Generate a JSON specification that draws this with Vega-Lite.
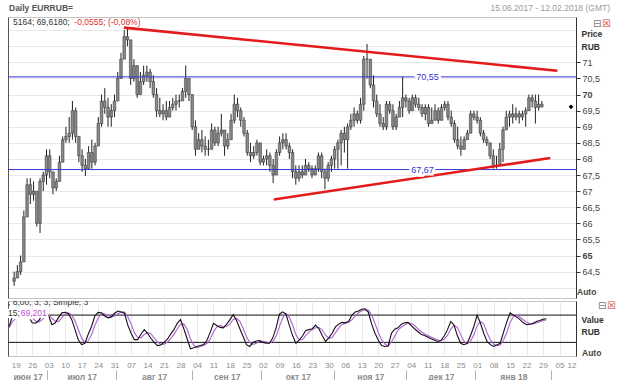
{
"$schema": "https://vega.github.io/schema/vega-lite/v6.json",
"autosize": {"type": "pad"},
"padding": {"left": 6, "top": 3, "right": 0, "bottom": 0},
"background": "white",
"spacing": 1,
"config": {"font": "Liberation Sans", "view": {"stroke": "#c4c4c4"}},
"datasets": {
"bars": [
{"i":0,"o":64.2,"h":64.5,"l":64.06,"c":64.3,"k":55,"d":52},
{"i":1,"o":64.3,"h":64.7,"l":64.3,"c":64.5,"k":78,"d":66},
{"i":2,"o":64.5,"h":65.0,"l":64.4,"c":64.8,"k":84,"d":72.3},
{"i":3,"o":64.8,"h":66.4,"l":64.8,"c":66.2,"k":90,"d":84},
{"i":4,"o":66.2,"h":67.4,"l":66.2,"c":67.2,"k":92,"d":88.7},
{"i":5,"o":67.2,"h":67.4,"l":66.6,"c":66.9,"k":84,"d":88.7},
{"i":6,"o":66.9,"h":67.3,"l":66.7,"c":67.0,"k":76,"d":84},
{"i":7,"o":67.0,"h":67.0,"l":65.9,"c":66.0,"k":63,"d":74.3},
{"i":8,"o":66.0,"h":67.4,"l":65.7,"c":67.3,"k":62,"d":67},
{"i":9,"o":67.3,"h":67.6,"l":67.0,"c":67.5,"k":68,"d":64.3},
{"i":10,"o":67.5,"h":68.3,"l":67.2,"c":68.1,"k":80,"d":70},
{"i":11,"o":68.1,"h":68.3,"l":67.4,"c":67.6,"k":82,"d":76.7},
{"i":12,"o":67.6,"h":67.6,"l":66.9,"c":67.1,"k":78,"d":80},
{"i":13,"o":67.1,"h":67.4,"l":67.0,"c":67.3,"k":59,"d":73},
{"i":14,"o":67.3,"h":68.1,"l":67.3,"c":67.9,"k":63,"d":66.7},
{"i":15,"o":67.9,"h":68.7,"l":67.9,"c":68.6,"k":75,"d":65.7},
{"i":16,"o":68.6,"h":69.0,"l":68.5,"c":68.7,"k":85,"d":74.3},
{"i":17,"o":68.7,"h":69.3,"l":68.5,"c":68.8,"k":86,"d":82},
{"i":18,"o":68.8,"h":69.8,"l":68.6,"c":69.5,"k":83,"d":84.7},
{"i":19,"o":69.5,"h":69.6,"l":68.5,"c":68.7,"k":70,"d":79.7},
{"i":20,"o":68.7,"h":68.7,"l":67.9,"c":68.1,"k":48,"d":67},
{"i":21,"o":68.1,"h":68.3,"l":67.6,"c":67.8,"k":25,"d":47.7},
{"i":22,"o":67.8,"h":68.0,"l":67.47,"c":67.7,"k":15,"d":29.3},
{"i":23,"o":67.7,"h":68.4,"l":67.7,"c":68.2,"k":18,"d":19.3},
{"i":24,"o":68.2,"h":68.6,"l":67.7,"c":67.9,"k":38,"d":23.7},
{"i":25,"o":67.9,"h":68.5,"l":67.8,"c":68.4,"k":55,"d":37},
{"i":26,"o":68.4,"h":69.3,"l":68.4,"c":69.1,"k":78,"d":57},
{"i":27,"o":69.1,"h":70.0,"l":69.0,"c":69.8,"k":86,"d":73},
{"i":28,"o":69.8,"h":70.2,"l":69.4,"c":69.6,"k":85,"d":83},
{"i":29,"o":69.6,"h":69.9,"l":69.0,"c":69.3,"k":78,"d":83},
{"i":30,"o":69.3,"h":69.7,"l":69.0,"c":69.5,"k":74,"d":79},
{"i":31,"o":69.5,"h":70.0,"l":69.3,"c":69.8,"k":76,"d":76},
{"i":32,"o":69.8,"h":70.7,"l":69.8,"c":70.5,"k":84,"d":78},
{"i":33,"o":70.5,"h":71.3,"l":70.5,"c":71.1,"k":89,"d":83},
{"i":34,"o":71.1,"h":72.0,"l":71.1,"c":71.8,"k":87,"d":86.7},
{"i":35,"o":71.8,"h":72.08,"l":71.5,"c":71.7,"k":84,"d":86.7},
{"i":36,"o":71.7,"h":71.7,"l":70.3,"c":70.5,"k":58,"d":76.3},
{"i":37,"o":70.5,"h":71.1,"l":70.4,"c":70.9,"k":40,"d":60.7},
{"i":38,"o":70.9,"h":70.9,"l":69.9,"c":70.0,"k":26,"d":41.3},
{"i":39,"o":70.0,"h":70.7,"l":70.0,"c":70.4,"k":26,"d":30.7},
{"i":40,"o":70.4,"h":70.9,"l":70.3,"c":70.6,"k":38,"d":30},
{"i":41,"o":70.6,"h":70.9,"l":70.4,"c":70.7,"k":48,"d":37.3},
{"i":42,"o":70.7,"h":70.8,"l":70.2,"c":70.4,"k":40,"d":42},
{"i":43,"o":70.4,"h":70.6,"l":69.9,"c":70.0,"k":29,"d":39},
{"i":44,"o":70.0,"h":70.2,"l":69.3,"c":69.5,"k":20,"d":29.7},
{"i":45,"o":69.5,"h":69.9,"l":69.3,"c":69.4,"k":13,"d":20.7},
{"i":46,"o":69.4,"h":69.7,"l":69.2,"c":69.5,"k":14,"d":15.7},
{"i":47,"o":69.5,"h":69.8,"l":69.2,"c":69.3,"k":20,"d":15.7},
{"i":48,"o":69.3,"h":69.8,"l":69.3,"c":69.6,"k":27,"d":20.3},
{"i":49,"o":69.6,"h":69.9,"l":69.5,"c":69.7,"k":38,"d":28.3},
{"i":50,"o":69.7,"h":70.0,"l":69.5,"c":69.8,"k":48,"d":37.7},
{"i":51,"o":69.8,"h":70.0,"l":69.6,"c":69.8,"k":62,"d":49.3},
{"i":52,"o":69.8,"h":70.2,"l":69.8,"c":70.1,"k":70,"d":60},
{"i":53,"o":70.1,"h":70.9,"l":69.9,"c":70.5,"k":50,"d":60.7},
{"i":54,"o":70.5,"h":70.5,"l":69.8,"c":70.0,"k":28,"d":49.3},
{"i":55,"o":70.0,"h":70.0,"l":68.9,"c":69.0,"k":6,"d":28},
{"i":56,"o":69.0,"h":69.2,"l":68.1,"c":68.3,"k":8,"d":14},
{"i":57,"o":68.3,"h":68.8,"l":68.3,"c":68.6,"k":11,"d":8.3},
{"i":58,"o":68.6,"h":68.9,"l":68.2,"c":68.4,"k":13,"d":10.7},
{"i":59,"o":68.4,"h":68.7,"l":68.1,"c":68.3,"k":15,"d":13},
{"i":60,"o":68.3,"h":68.6,"l":68.1,"c":68.3,"k":24,"d":17.3},
{"i":61,"o":68.3,"h":69.1,"l":68.3,"c":68.9,"k":42,"d":27},
{"i":62,"o":68.9,"h":69.0,"l":68.4,"c":68.5,"k":62,"d":42.7},
{"i":63,"o":68.5,"h":69.0,"l":68.4,"c":68.8,"k":57,"d":53.7},
{"i":64,"o":68.8,"h":69.4,"l":68.7,"c":68.9,"k":53,"d":57.3},
{"i":65,"o":68.9,"h":68.9,"l":68.1,"c":68.4,"k":52,"d":54},
{"i":66,"o":68.4,"h":68.8,"l":68.3,"c":68.6,"k":60,"d":55},
{"i":67,"o":68.6,"h":69.4,"l":68.6,"c":69.2,"k":70,"d":60.7},
{"i":68,"o":69.2,"h":70.0,"l":69.1,"c":69.7,"k":81,"d":70.3},
{"i":69,"o":69.7,"h":69.9,"l":69.3,"c":69.5,"k":68,"d":73},
{"i":70,"o":69.5,"h":69.6,"l":69.0,"c":69.2,"k":50,"d":66.3},
{"i":71,"o":69.2,"h":69.3,"l":68.7,"c":68.8,"k":33,"d":50.3},
{"i":72,"o":68.8,"h":68.9,"l":68.1,"c":68.2,"k":15,"d":32.7},
{"i":73,"o":68.2,"h":68.5,"l":67.9,"c":68.1,"k":11,"d":19.7},
{"i":74,"o":68.1,"h":68.4,"l":68.0,"c":68.2,"k":20,"d":15.3},
{"i":75,"o":68.2,"h":68.6,"l":68.1,"c":68.5,"k":23,"d":18},
{"i":76,"o":68.5,"h":68.5,"l":67.8,"c":67.9,"k":24,"d":22.3},
{"i":77,"o":67.9,"h":68.1,"l":67.8,"c":68.0,"k":20,"d":22.3},
{"i":78,"o":68.0,"h":68.3,"l":67.8,"c":68.1,"k":18,"d":20.7},
{"i":79,"o":68.1,"h":68.2,"l":67.6,"c":67.8,"k":18,"d":18.7},
{"i":80,"o":67.8,"h":68.0,"l":67.25,"c":67.5,"k":30,"d":22},
{"i":81,"o":67.5,"h":68.3,"l":67.5,"c":68.2,"k":52,"d":33.3},
{"i":82,"o":68.2,"h":68.7,"l":68.1,"c":68.5,"k":82,"d":54.7},
{"i":83,"o":68.5,"h":68.8,"l":68.3,"c":68.6,"k":87,"d":73.7},
{"i":84,"o":68.6,"h":68.8,"l":68.3,"c":68.4,"k":82,"d":83.7},
{"i":85,"o":68.4,"h":68.5,"l":68.0,"c":68.2,"k":58,"d":75.7},
{"i":86,"o":68.2,"h":68.3,"l":67.4,"c":67.6,"k":35,"d":58.3},
{"i":87,"o":67.6,"h":67.8,"l":67.2,"c":67.4,"k":18,"d":37},
{"i":88,"o":67.4,"h":67.8,"l":67.3,"c":67.6,"k":25,"d":26},
{"i":89,"o":67.6,"h":67.8,"l":67.4,"c":67.5,"k":34,"d":25.7},
{"i":90,"o":67.5,"h":68.0,"l":67.5,"c":67.8,"k":46,"d":35},
{"i":91,"o":67.8,"h":67.9,"l":67.6,"c":67.7,"k":48,"d":42.7},
{"i":92,"o":67.7,"h":67.8,"l":67.4,"c":67.5,"k":50,"d":48},
{"i":93,"o":67.5,"h":67.8,"l":67.5,"c":67.7,"k":58,"d":52},
{"i":94,"o":67.7,"h":68.2,"l":67.6,"c":68.1,"k":50,"d":52.7},
{"i":95,"o":68.1,"h":68.2,"l":67.4,"c":67.6,"k":35,"d":47.7},
{"i":96,"o":67.6,"h":67.7,"l":67.06,"c":67.4,"k":22,"d":35.7},
{"i":97,"o":67.4,"h":67.9,"l":67.3,"c":67.8,"k":30,"d":29},
{"i":98,"o":67.8,"h":68.1,"l":67.6,"c":68.0,"k":40,"d":30.7},
{"i":99,"o":68.0,"h":68.4,"l":67.7,"c":68.3,"k":54,"d":41.3},
{"i":100,"o":68.3,"h":68.6,"l":67.7,"c":68.5,"k":60,"d":51.3},
{"i":101,"o":68.5,"h":68.9,"l":67.8,"c":68.8,"k":64,"d":59.3},
{"i":102,"o":68.8,"h":69.0,"l":68.2,"c":68.6,"k":63,"d":62.3},
{"i":103,"o":68.6,"h":69.1,"l":67.7,"c":69.0,"k":66,"d":64.3},
{"i":104,"o":69.0,"h":69.4,"l":68.9,"c":69.2,"k":80,"d":69.7},
{"i":105,"o":69.2,"h":69.6,"l":69.0,"c":69.4,"k":87,"d":77.7},
{"i":106,"o":69.4,"h":69.5,"l":69.1,"c":69.2,"k":89,"d":85.3},
{"i":107,"o":69.2,"h":69.9,"l":69.1,"c":69.7,"k":93,"d":89.7},
{"i":108,"o":69.7,"h":71.2,"l":69.5,"c":71.1,"k":94,"d":92},
{"i":109,"o":71.1,"h":71.57,"l":70.5,"c":71.1,"k":86,"d":91},
{"i":110,"o":71.1,"h":71.1,"l":70.2,"c":70.3,"k":60,"d":80},
{"i":111,"o":70.3,"h":70.6,"l":69.6,"c":69.8,"k":40,"d":62},
{"i":112,"o":69.8,"h":70.0,"l":69.3,"c":69.4,"k":25,"d":41.7},
{"i":113,"o":69.4,"h":69.7,"l":69.0,"c":69.1,"k":13,"d":26},
{"i":114,"o":69.1,"h":69.3,"l":68.9,"c":69.0,"k":11,"d":16.3},
{"i":115,"o":69.0,"h":69.8,"l":68.9,"c":69.7,"k":12,"d":12},
{"i":116,"o":69.7,"h":69.8,"l":69.4,"c":69.5,"k":40,"d":21},
{"i":117,"o":69.5,"h":69.7,"l":68.9,"c":69.0,"k":49,"d":33.7},
{"i":118,"o":69.0,"h":69.4,"l":68.9,"c":69.3,"k":52,"d":47},
{"i":119,"o":69.3,"h":69.8,"l":69.3,"c":69.6,"k":60,"d":53.7},
{"i":120,"o":69.6,"h":70.55,"l":69.3,"c":69.9,"k":63,"d":58.3},
{"i":121,"o":69.9,"h":70.0,"l":69.6,"c":69.8,"k":64,"d":62.3},
{"i":122,"o":69.8,"h":69.9,"l":69.4,"c":69.5,"k":57,"d":61.3},
{"i":123,"o":69.5,"h":70.0,"l":69.5,"c":69.9,"k":50,"d":57},
{"i":124,"o":69.9,"h":70.0,"l":69.6,"c":69.7,"k":44,"d":50.3},
{"i":125,"o":69.7,"h":69.9,"l":69.5,"c":69.6,"k":38,"d":44},
{"i":126,"o":69.6,"h":69.7,"l":69.3,"c":69.4,"k":35,"d":39},
{"i":127,"o":69.4,"h":69.7,"l":69.2,"c":69.6,"k":32,"d":35},
{"i":128,"o":69.6,"h":69.7,"l":69.0,"c":69.1,"k":28,"d":31.7},
{"i":129,"o":69.1,"h":69.6,"l":69.1,"c":69.2,"k":25,"d":28.3},
{"i":130,"o":69.2,"h":69.7,"l":69.2,"c":69.5,"k":22,"d":25},
{"i":131,"o":69.5,"h":69.6,"l":69.1,"c":69.2,"k":24,"d":23.7},
{"i":132,"o":69.2,"h":69.7,"l":69.2,"c":69.6,"k":34,"d":26.7},
{"i":133,"o":69.6,"h":69.8,"l":69.5,"c":69.7,"k":48,"d":35.3},
{"i":134,"o":69.7,"h":69.8,"l":69.2,"c":69.3,"k":66,"d":49.3},
{"i":135,"o":69.3,"h":69.5,"l":69.0,"c":69.1,"k":58,"d":57.3},
{"i":136,"o":69.1,"h":69.2,"l":68.5,"c":68.6,"k":35,"d":53},
{"i":137,"o":68.6,"h":69.0,"l":68.3,"c":68.4,"k":18,"d":37},
{"i":138,"o":68.4,"h":68.7,"l":68.1,"c":68.3,"k":15,"d":22.7},
{"i":139,"o":68.3,"h":68.7,"l":68.3,"c":68.6,"k":18,"d":17},
{"i":140,"o":68.6,"h":68.9,"l":68.6,"c":68.8,"k":35,"d":22.7},
{"i":141,"o":68.8,"h":69.5,"l":68.8,"c":69.4,"k":55,"d":36},
{"i":142,"o":69.4,"h":69.5,"l":69.2,"c":69.3,"k":80,"d":56.7},
{"i":143,"o":69.3,"h":69.5,"l":69.1,"c":69.2,"k":62,"d":65.7},
{"i":144,"o":69.2,"h":69.3,"l":68.7,"c":68.8,"k":40,"d":60.7},
{"i":145,"o":68.8,"h":68.9,"l":68.5,"c":68.6,"k":22,"d":41.3},
{"i":146,"o":68.6,"h":68.7,"l":68.4,"c":68.5,"k":15,"d":25.7},
{"i":147,"o":68.5,"h":68.5,"l":68.0,"c":68.1,"k":11,"d":16},
{"i":148,"o":68.1,"h":68.3,"l":67.7,"c":67.8,"k":14,"d":13.3},
{"i":149,"o":67.8,"h":68.1,"l":67.7,"c":67.8,"k":18,"d":14.3},
{"i":150,"o":67.8,"h":68.5,"l":67.8,"c":68.3,"k":42,"d":24.7},
{"i":151,"o":68.3,"h":69.0,"l":67.9,"c":68.9,"k":65,"d":41.7},
{"i":152,"o":68.9,"h":69.5,"l":68.9,"c":69.3,"k":85,"d":64},
{"i":153,"o":69.3,"h":69.5,"l":69.0,"c":69.4,"k":80,"d":76.7},
{"i":154,"o":69.4,"h":69.7,"l":69.1,"c":69.3,"k":76,"d":80.3},
{"i":155,"o":69.3,"h":69.6,"l":69.2,"c":69.4,"k":70,"d":75.3},
{"i":156,"o":69.4,"h":69.5,"l":69.1,"c":69.3,"k":63,"d":69.7},
{"i":157,"o":69.3,"h":69.5,"l":69.2,"c":69.4,"k":59,"d":64},
{"i":158,"o":69.4,"h":69.6,"l":69.0,"c":69.5,"k":60,"d":60.7},
{"i":159,"o":69.5,"h":70.0,"l":69.5,"c":69.9,"k":62,"d":60.3},
{"i":160,"o":69.9,"h":70.0,"l":69.6,"c":69.8,"k":66,"d":62.7},
{"i":161,"o":69.8,"h":70.0,"l":69.1,"c":69.6,"k":68,"d":65.3},
{"i":162,"o":69.6,"h":70.0,"l":69.5,"c":69.7,"k":71,"d":68.3},
{"i":163,"o":69.7,"h":69.8,"l":69.6,"c":69.62,"k":72,"d":69.2}
],
"trend": [
{"g":"upper","i":33.9,"p":72.08},{"g":"upper","i":167.8,"p":70.74},
{"g":"lower","i":80.2,"p":66.74},{"g":"lower","i":165.6,"p":68.03}
],
"levels": [
{"p":70.55,"t":"70,55","i":127.7},{"p":67.67,"t":"67,67","i":126.1}
],
"bands": [{"v":80},{"v":20}]
},
"vconcat": [
{
"width": 568, "height": 281,
"layer": [
{"data": {"name": "bars"},
 "mark": {"type": "rule", "color": "#222", "strokeWidth": 1},
 "encoding": {
  "x": {"field": "i", "type": "quantitative", "scale": {"domain": [-0.35, 172], "nice": false, "zero": false},
        "axis": {"orient": "bottom", "values": [2,7,12,17,22,27,32,37,42,47,52,57,62,67,72,77,82,87,92,97,102,107,112,117,122,127,132,137,142,147,152,157,162,167,172], "labels": false, "ticks": false, "domain": false, "grid": true, "gridColor": "#e9e9e9", "title": null}},
  "y": {"field": "l", "type": "quantitative", "scale": {"domain": [63.68, 72.41], "nice": false, "zero": false},
        "axis": {"orient": "left", "labels": false, "ticks": false, "grid": false, "domain": true, "domainColor": "#555", "title": null}},
  "y2": {"field": "h"}}},
{"data": {"name": "bars"},
 "mark": {"type": "bar", "width": 2.6, "fill": "#8a8a8a", "stroke": "#2a2a2a", "strokeWidth": 0.5},
 "encoding": {
  "x": {"field": "i", "type": "quantitative", "scale": {"domain": [-0.35, 172], "nice": false, "zero": false}, "axis": null},
  "y": {"field": "o", "type": "quantitative", "scale": {"domain": [63.68, 72.41], "nice": false, "zero": false},
        "axis": {"orient": "right", "values": [64,64.5,65,65.5,66,66.5,67,67.5,68,68.5,69,69.5,70,70.5,71,71.5,72],
                 "labelExpr": "datum.value > 71.2 || datum.value < 64.2 ? '' : replace(format(datum.value, '.1~f'), '.', ',')",
                 "labelFontWeight": {"condition": {"test": "datum.value == 65 || datum.value == 70", "value": "bold"}, "value": "normal"},
                 "tickOpacity": {"condition": {"test": "datum.value > 71.2 || datum.value < 64.2", "value": 0}, "value": 1},
                 "grid": true, "gridColor": "#e9e9e9", "domainColor": "#333", "tickColor": "#333", "tickSize": 4,
                 "labelFontSize": 9, "labelColor": "#444", "labelPadding": 2,
                 "title": ["Price", "RUB"], "titleAngle": 0, "titleAlign": "left", "titleBaseline": "top",
                 "titleX": 5, "titleY": 12, "titleFontSize": 8.5, "titleFontWeight": "bold", "titleColor": "#333", "titleLineHeight": 13}},
  "y2": {"field": "c"}}},
{"data": {"name": "levels"},
 "mark": {"type": "rule", "stroke": "#3434d4", "strokeWidth": 1},
 "encoding": {"y": {"field": "p", "type": "quantitative", "scale": {"domain": [63.68, 72.41], "nice": false, "zero": false}, "axis": null}}},
{"data": {"name": "trend"},
 "mark": {"type": "line", "color": "#e31b1b", "strokeWidth": 2.6},
 "encoding": {
  "x": {"field": "i", "type": "quantitative", "scale": {"domain": [-0.35, 172], "nice": false, "zero": false}, "axis": null},
  "y": {"field": "p", "type": "quantitative", "scale": {"domain": [63.68, 72.41], "nice": false, "zero": false}, "axis": null},
  "detail": {"field": "g"}}},
{"data": {"name": "levels"},
 "mark": {"type": "text", "fontSize": 9, "stroke": "white", "strokeWidth": 5, "fill": "white", "align": "center", "baseline": "middle"},
 "encoding": {
  "x": {"field": "i", "type": "quantitative", "scale": {"domain": [-0.35, 172], "nice": false, "zero": false}, "axis": null},
  "y": {"field": "p", "type": "quantitative", "scale": {"domain": [63.68, 72.41], "nice": false, "zero": false}, "axis": null},
  "text": {"field": "t"}}},
{"data": {"name": "levels"},
 "mark": {"type": "text", "fontSize": 9, "color": "#3434d4", "align": "center", "baseline": "middle"},
 "encoding": {
  "x": {"field": "i", "type": "quantitative", "scale": {"domain": [-0.35, 172], "nice": false, "zero": false}, "axis": null},
  "y": {"field": "p", "type": "quantitative", "scale": {"domain": [63.68, 72.41], "nice": false, "zero": false}, "axis": null},
  "text": {"field": "t"}}},
{"data": {"values": [{}]},
 "mark": {"type": "text", "text": "5164; 69,6180;", "fontSize": 8.5, "color": "#333", "align": "left", "baseline": "middle", "dx": 0, "dy": 5},
 "encoding": {"x": {"datum": -0.35, "type": "quantitative", "axis": null}, "y": {"datum": 72.41, "type": "quantitative", "axis": null}}},
{"data": {"values": [{}]},
 "mark": {"type": "text", "text": "-0,0555; (-0,08%)", "fontSize": 8.5, "color": "#e0302a", "align": "left", "baseline": "middle", "dy": 5},
 "encoding": {"x": {"datum": 18.6, "type": "quantitative", "axis": null}, "y": {"datum": 72.41, "type": "quantitative", "axis": null}}},
{"data": {"values": [{}]},
 "mark": {"type": "text", "text": "Daily EURRUB=", "fontSize": 8.5, "fontWeight": "bold", "color": "#555", "align": "left", "baseline": "middle", "dx": -4, "dy": -9},
 "encoding": {"x": {"datum": -0.35, "type": "quantitative", "axis": null}, "y": {"datum": 72.41, "type": "quantitative", "axis": null}}},
{"data": {"values": [{}]},
 "mark": {"type": "text", "text": "15.06.2017 - 12.02.2018 (GMT)", "fontSize": 8.5, "color": "#9a9a9a", "align": "right", "baseline": "middle", "dx": 39, "dy": -9},
 "encoding": {"x": {"datum": 172, "type": "quantitative", "axis": null}, "y": {"datum": 72.41, "type": "quantitative", "axis": null}}},
{"data": {"values": [{}]},
 "mark": {"type": "text", "text": "⊟", "font": "DejaVu Sans", "fontSize": 10, "color": "#777", "align": "left", "baseline": "middle", "dx": 22, "dy": 7},
 "encoding": {"x": {"datum": 172, "type": "quantitative", "axis": null}, "y": {"datum": 72.41, "type": "quantitative", "axis": null}}},
{"data": {"values": [{}]},
 "mark": {"type": "text", "text": "☒", "font": "DejaVu Sans", "fontSize": 10, "color": "#d63a2a", "align": "left", "baseline": "middle", "dx": 31, "dy": 7},
 "encoding": {"x": {"datum": 172, "type": "quantitative", "axis": null}, "y": {"datum": 72.41, "type": "quantitative", "axis": null}}},
{"data": {"values": [{}]},
 "mark": {"type": "text", "text": "Auto", "fontSize": 8.5, "fontWeight": "bold", "color": "#444", "align": "left", "baseline": "middle", "dx": 6, "dy": -6},
 "encoding": {"x": {"datum": 172, "type": "quantitative", "axis": null}, "y": {"datum": 63.68, "type": "quantitative", "axis": null}}},
{"data": {"values": [{}]},
 "mark": {"type": "point", "shape": "diamond", "filled": true, "color": "#000", "size": 22, "opacity": 1},
 "encoding": {"x": {"datum": 172, "type": "quantitative", "axis": null}, "y": {"datum": 69.618, "type": "quantitative", "axis": null}}}
],
"resolve": {"axis": {"y": "independent"}}
},
{
"width": 568, "height": 55,
"layer": [
{"data": {"name": "bands"},
 "mark": {"type": "rule", "color": "#111", "strokeWidth": 1},
 "encoding": {"y": {"field": "v", "type": "quantitative", "scale": {"domain": [-10, 111], "nice": false, "zero": false}, "axis": null}}},
{"data": {"name": "bars"},
 "mark": {"type": "line", "color": "#b25ed6", "strokeWidth": 1.1},
 "encoding": {
  "x": {"field": "i", "type": "quantitative", "scale": {"domain": [-0.35, 172], "nice": false, "zero": false},
        "axis": {"orient": "bottom", "values": [2,7,12,17,22,27,32,37,42,47,52,57,62,67,72,77,82,87,92,97,102,107,112,117,122,127,132,137,142,147,152,157,162,167,172],
                 "labelExpr": "timeFormat(datetime(2017, 5, 19 + 7 * (datum.value - 2) / 5), '%d')",
                 "ticks": false, "domain": false, "grid": true, "gridColor": "#e9e9e9",
                 "labelFontSize": 8, "labelColor": "#8c8c8c", "labelPadding": 5, "labelFlush": 1, "labelOverlap": false, "labelBound": false, "title": null}},
  "y": {"field": "d", "type": "quantitative", "scale": {"domain": [-10, 111], "nice": false, "zero": false},
        "axis": {"orient": "right", "labels": false, "ticks": false, "grid": false, "domain": true, "domainColor": "#333",
                 "title": ["Value", "RUB"], "titleAngle": 0, "titleAlign": "left", "titleBaseline": "top",
                 "titleX": 5, "titleY": 14, "titleFontSize": 8.5, "titleFontWeight": "bold", "titleColor": "#333", "titleLineHeight": 12}}}},
{"data": {"name": "bars"},
 "mark": {"type": "line", "color": "#111", "strokeWidth": 1.1},
 "encoding": {
  "x": {"field": "i", "type": "quantitative", "scale": {"domain": [-0.35, 172], "nice": false, "zero": false},
        "axis": {"orient": "bottom", "offset": 14,
                 "values": [5.6, 11.5, 22, 32.5, 44, 55.5, 66, 76.5, 87.6, 98.5, 109.6, 120.5, 131, 141.5, 153, 164.5],
                 "labelExpr": "datum.value == 5.6 ? 'июн 17' : datum.value == 22 ? 'июл 17' : datum.value == 44 ? 'авг 17' : datum.value == 66 ? 'сен 17' : datum.value == 87.6 ? 'окт 17' : datum.value == 109.6 ? 'ноя 17' : datum.value == 131 ? 'дек 17' : datum.value == 153 ? 'янв 18' : ''",
                 "domain": false, "grid": false, "ticks": true, "tickSize": 13, "tickColor": "#b0b0b0",
                 "tickOpacity": {"condition": {"test": "datum.value % 1 == 0.5", "value": 1}, "value": 0},
                 "labelPadding": -11, "labelFontSize": 8.5, "labelFontWeight": "bold", "labelColor": "#8c8c8c",
                 "labelOverlap": false, "labelBound": false, "labelFlush": false, "title": null}},
  "y": {"field": "k", "type": "quantitative", "scale": {"domain": [-10, 111], "nice": false, "zero": false},
        "axis": {"orient": "left", "labels": false, "ticks": false, "grid": false, "domain": true, "domainColor": "#555", "title": null}}}},
{"data": {"values": [{}]},
 "mark": {"type": "text", "text": "; 8,00;  3; 3; Simple; 3", "fontSize": 8.5, "color": "#333", "align": "left", "baseline": "middle", "dx": 0, "dy": 1, "clip": true},
 "encoding": {"x": {"datum": -0.35, "type": "quantitative", "axis": null}, "y": {"datum": 111, "type": "quantitative", "axis": null}}},
{"data": {"values": [{}]},
 "mark": {"type": "text", "text": "15;", "fontSize": 8.5, "stroke": "white", "strokeWidth": 4, "fill": "white", "align": "left", "baseline": "middle", "dx": 0, "dy": 12},
 "encoding": {"x": {"datum": -0.35, "type": "quantitative", "axis": null}, "y": {"datum": 111, "type": "quantitative", "axis": null}}},
{"data": {"values": [{}]},
 "mark": {"type": "text", "text": "69,201", "fontSize": 8.5, "stroke": "white", "strokeWidth": 4, "fill": "white", "align": "left", "baseline": "middle", "dy": 12},
 "encoding": {"x": {"datum": 3.5, "type": "quantitative", "axis": null}, "y": {"datum": 111, "type": "quantitative", "axis": null}}},
{"data": {"values": [{}]},
 "mark": {"type": "text", "text": "15;", "fontSize": 8.5, "color": "#333", "align": "left", "baseline": "middle", "dx": 0, "dy": 12},
 "encoding": {"x": {"datum": -0.35, "type": "quantitative", "axis": null}, "y": {"datum": 111, "type": "quantitative", "axis": null}}},
{"data": {"values": [{}]},
 "mark": {"type": "text", "text": "69,201", "fontSize": 8.5, "color": "#c04ad8", "align": "left", "baseline": "middle", "dy": 12},
 "encoding": {"x": {"datum": 3.5, "type": "quantitative", "axis": null}, "y": {"datum": 111, "type": "quantitative", "axis": null}}},
{"data": {"values": [{}]},
 "mark": {"type": "text", "text": "⊟", "font": "DejaVu Sans", "fontSize": 10, "color": "#777", "align": "left", "baseline": "middle", "dx": 22, "dy": 5},
 "encoding": {"x": {"datum": 172, "type": "quantitative", "axis": null}, "y": {"datum": 111, "type": "quantitative", "axis": null}}},
{"data": {"values": [{}]},
 "mark": {"type": "text", "text": "☒", "font": "DejaVu Sans", "fontSize": 10, "color": "#d63a2a", "align": "left", "baseline": "middle", "dx": 31, "dy": 5},
 "encoding": {"x": {"datum": 172, "type": "quantitative", "axis": null}, "y": {"datum": 111, "type": "quantitative", "axis": null}}},
{"data": {"values": [{}]},
 "mark": {"type": "text", "text": "Auto", "fontSize": 8.5, "fontWeight": "bold", "color": "#444", "align": "left", "baseline": "middle", "dx": 6, "dy": -3},
 "encoding": {"x": {"datum": 172, "type": "quantitative", "axis": null}, "y": {"datum": -10, "type": "quantitative", "axis": null}}}
],
"resolve": {"axis": {"x": "independent", "y": "independent"}}
}
]
}
